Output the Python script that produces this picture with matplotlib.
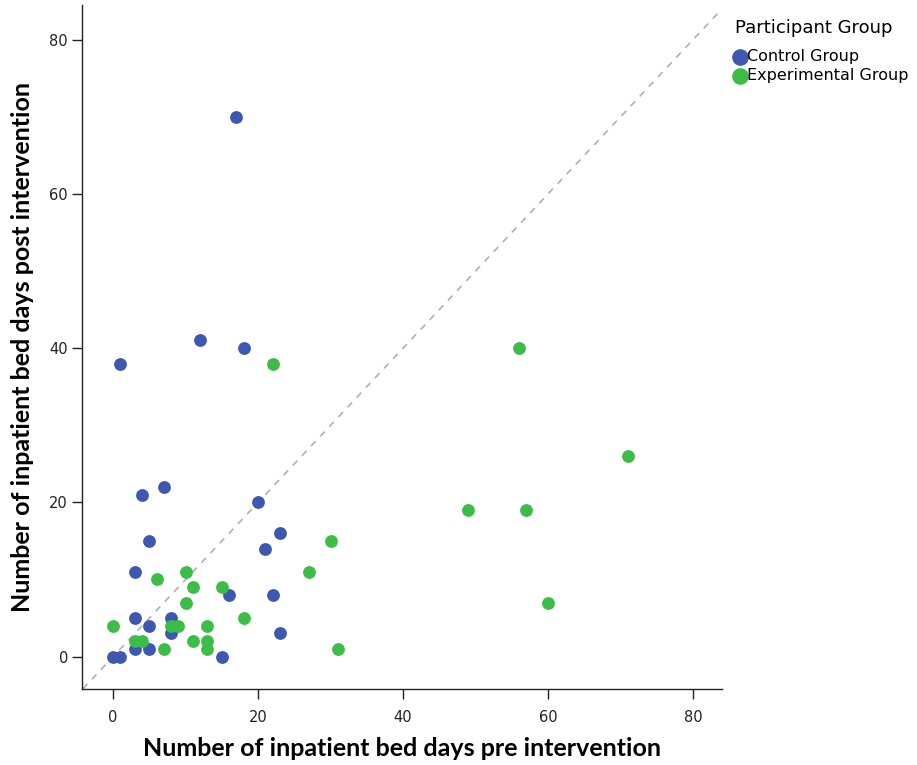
import matplotlib
matplotlib.use("Agg")
from matplotlib import pyplot as plt

# Control group (pre, post)
control_pre = [17, 1, 12, 18, 4, 7, 20, 5, 21, 23, 3, 16, 22, 3, 8, 5, 8, 23, 3, 5, 0, 1, 15]
control_post = [70, 38, 41, 40, 21, 22, 20, 15, 14, 16, 11, 8, 8, 5, 5, 4, 3, 3, 1, 1, 0, 0, 0]

# Experimental group (pre, post)
exp_pre = [22, 56, 71, 49, 57, 60, 30, 27, 31, 10, 6, 11, 15, 10, 18, 0, 8, 9, 13, 3, 4, 11, 13, 13, 7]
exp_post = [38, 40, 26, 19, 19, 7, 15, 11, 1, 11, 10, 9, 9, 7, 5, 4, 4, 4, 4, 2, 2, 2, 2, 1, 1]

ticks = [0, 20, 40, 60, 80]

blue = "#3e57b0"
green = "#3cbd48"
label_font = ["Lato", "DejaVu Sans"]

fig = plt.figure(figsize=(9.17, 7.65), dpi=100)
ax = fig.add_axes([82 / 917, 1 - 689 / 765, 640 / 917, 684 / 765])

# Reference line y = x
ax.axline((0, 0), slope=1, color="#b0b0b0", linestyle=(0, (4, 4)), linewidth=1.2, zorder=1)

ax.scatter(control_pre, control_post, s=85, color=blue, linewidths=0, label="Control Group", zorder=3)
ax.scatter(exp_pre, exp_post, s=85, color=green, linewidths=0, label="Experimental Group", zorder=3)

ax.set_xlim(-4.3, 84)
ax.set_ylim(-4.2, 84.5)
ax.set_xticks(ticks)
ax.set_yticks(ticks)
ax.tick_params(axis="both", direction="out", length=7, width=1, labelsize=10.5, colors="#222222")
ax.tick_params(axis="x", pad=8)
ax.tick_params(axis="y", pad=3)

for side in ["top", "right"]:
    ax.spines[side].set_visible(False)
for side in ["left", "bottom"]:
    ax.spines[side].set_color("#222222")
    ax.spines[side].set_linewidth(1.0)

ax.set_xlabel("Number of inpatient bed days pre intervention", fontsize=18, fontweight="bold",
              family=label_font, labelpad=9)
ax.set_ylabel("Number of inpatient bed days post intervention", fontsize=18, fontweight="bold",
              family=label_font, labelpad=11)

leg = ax.legend(
    title="Participant Group",
    loc="upper left",
    bbox_to_anchor=(727 / 917, 1 - 11 / 765),
    bbox_transform=fig.transFigure,
    frameon=False,
    prop={"size": 11.5},
    title_fontproperties={"size": 13},
    handletextpad=0.15,
    handlelength=0.6,
    borderpad=0,
    labelspacing=0.25,
    markerscale=1.3,
    alignment="left",
)
leg._legend_box.sep = 9

plt.savefig("out.png", dpi=100)
